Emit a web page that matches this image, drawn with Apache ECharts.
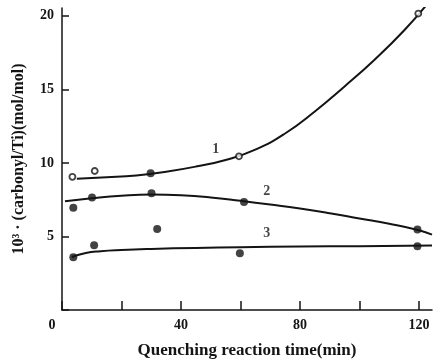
<!DOCTYPE html>
<html>
<head>
<meta charset="utf-8">
<script src="https://cdn.jsdelivr.net/npm/echarts@6/dist/echarts.min.js"></script>
<style>
  html, body { margin: 0; padding: 0; background: #fff; }
  #chart { width: 434px; height: 364px; }
</style>
</head>
<body>
<div id="chart"></div>
<script>
// Measured points (time in min, 10^3 · carbonyl/Ti in mol/mol)
const s1Time = [3.5, 11, 29.8, 59.5, 119.8];
const s1Value = [9.05, 9.45, 9.3, 10.45, 20.15];
const s1Filled = [false, false, true, false, false];

const s2Time = [3.8, 10.1, 30.1, 61.2, 119.5];
const s2Value = [6.95, 7.64, 7.93, 7.35, 5.47];

const s3Time = [3.8, 10.8, 32, 59.8, 119.5];
const s3Value = [3.58, 4.4, 5.51, 3.85, 4.33];

// Fitted trend curves
const c1Time = [5, 15, 25, 35, 45, 55, 65, 75, 85, 95, 105, 115, 123];
const c1Value = [8.93, 9.02, 9.15, 9.4, 9.75, 10.2, 10.9, 12.0, 13.5, 15.2, 17.0, 19.0, 20.85];

const c2Time = [1, 10, 20, 30, 40, 50, 60, 70, 80, 90, 100, 110, 120, 124.4];
const c2Value = [7.4, 7.6, 7.77, 7.85, 7.8, 7.65, 7.42, 7.17, 6.9, 6.58, 6.22, 5.86, 5.42, 5.12];

const c3Time = [3.3, 8, 13, 20, 30, 45, 60, 80, 100, 124.4];
const c3Value = [3.6, 3.88, 4.0, 4.08, 4.15, 4.22, 4.27, 4.31, 4.34, 4.38];

// Curve labels
const curveNames = ['1', '2', '3'];
const curveNameTime = [51.7, 68.8, 68.8];
const curveNameValue = [10.95, 8.07, 5.18];

// Axis settings
const xMax = 124.4;
const yMax = 20.53;
const xLabelTicks = [0, 40, 80, 120];
const yLabelTicks = [5, 10, 15, 20];

const INK = '#141414';
const FONT = '"Liberation Serif", "DejaVu Serif", serif';

const zip = (a, b) => a.map((v, i) => [v, b[i]]);

const curve = (t, v) => ({
  type: 'line',
  data: zip(t, v),
  smooth: 0.5,
  symbol: 'none',
  lineStyle: { color: INK, width: 2 },
  silent: true,
  z: 2
});

const chart = echarts.init(document.getElementById('chart'), null, { renderer: 'canvas' });

chart.setOption({
  animation: false,
  backgroundColor: '#ffffff',
  grid: { left: 62, right: 2, top: 8, bottom: 48, containLabel: false },
  xAxis: {
    type: 'value',
    min: 0,
    max: xMax,
    interval: 20,
    name: 'Quenching reaction time(min)',
    nameLocation: 'middle',
    nameGap: 32,
    nameTextStyle: { color: INK, fontFamily: FONT, fontWeight: 'bold', fontSize: 17 },
    axisLine: { show: true, lineStyle: { color: INK, width: 1.5 } },
    axisTick: { show: true, inside: true, length: 9, lineStyle: { color: INK, width: 1.5 } },
    splitLine: { show: false },
    axisLabel: {
      color: INK, fontFamily: FONT, fontWeight: 'bold', fontSize: 14, margin: 8,
      showMaxLabel: false,
      formatter: v => {
        if (v === 0) return '{z|0}';
        return xLabelTicks.includes(v) ? String(v) : '';
      },
      rich: {
        z: { color: INK, fontFamily: FONT, fontWeight: 'bold', fontSize: 14, padding: [0, 20, 0, 0] }
      }
    }
  },
  yAxis: {
    type: 'value',
    min: 0,
    max: yMax,
    interval: 5,
    name: '10³ · (carbonyl/Ti)(mol/mol)',
    nameLocation: 'middle',
    nameGap: 35,
    nameRotate: 90,
    nameTextStyle: { color: INK, fontFamily: FONT, fontWeight: 'bold', fontSize: 16 },
    axisLine: { show: true, lineStyle: { color: INK, width: 1.5 } },
    axisTick: { show: true, inside: true, length: 7, lineStyle: { color: INK, width: 1.5 } },
    splitLine: { show: false },
    axisLabel: {
      color: INK, fontFamily: FONT, fontWeight: 'bold', fontSize: 14, margin: 8,
      showMaxLabel: false,
      formatter: v => (yLabelTicks.includes(v) ? String(v) : '')
    }
  },
  series: [
    curve(c1Time, c1Value),
    curve(c2Time, c2Value),
    curve(c3Time, c3Value),
    {
      type: 'scatter',
      data: s1Time.map((t, i) => ({
        value: [t, s1Value[i]],
        symbolSize: s1Filled[i] ? 8 : 6,
        itemStyle: s1Filled[i]
          ? { color: INK, borderWidth: 0 }
          : { color: '#ffffff', borderColor: INK, borderWidth: 1.8 }
      })),
      symbol: 'circle',
      z: 4
    },
    {
      type: 'scatter',
      data: zip(s2Time, s2Value),
      symbol: 'circle',
      symbolSize: 8,
      itemStyle: { color: INK },
      z: 4
    },
    {
      type: 'scatter',
      data: zip(s3Time, s3Value),
      symbol: 'circle',
      symbolSize: 8,
      itemStyle: { color: INK },
      z: 4
    },
    {
      type: 'scatter',
      data: curveNames.map((n, i) => ({ value: [curveNameTime[i], curveNameValue[i]], name: n })),
      symbolSize: 0,
      silent: true,
      label: {
        show: true,
        position: 'inside',
        formatter: p => p.name,
        color: INK,
        fontFamily: FONT,
        fontWeight: 'bold',
        fontSize: 14
      },
      z: 5
    }
  ]
});
</script>
</body>
</html>
